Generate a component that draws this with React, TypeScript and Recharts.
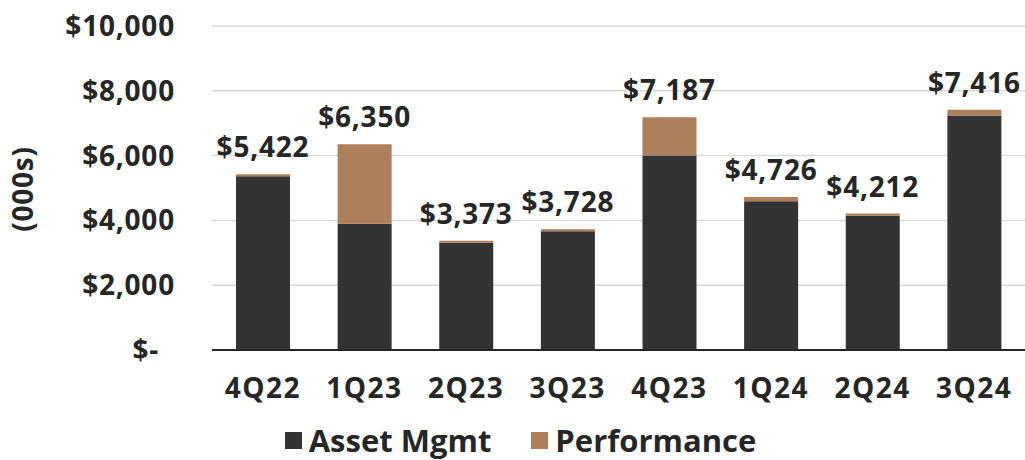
import { Bar, BarChart, CartesianGrid, Label, Legend, XAxis, YAxis } from "recharts";

const quarters = ["4Q22", "1Q23", "2Q23", "3Q23", "4Q23", "1Q24", "2Q24", "3Q24"];
const assetMgmt = [5360, 3900, 3310, 3665, 6000, 4590, 4140, 7235];
const performance = [62, 2450, 63, 63, 1187, 136, 72, 181];
const yTicks = [0, 2000, 4000, 6000, 8000, 10000];

const FONT = "'Open Sans', sans-serif";
const INK = "#262626";
const DARK = "#333333";
const TAN = "#AD7F5A";

const data = quarters.map((q, i) => ({
  q,
  asset: assetMgmt[i],
  perf: performance[i],
  total: assetMgmt[i] + performance[i],
}));

const money = (v: number) => (v === 0 ? "$-" : `$${v.toLocaleString("en-US")}`);

const textStyle = {
  fill: INK,
  fontFamily: FONT,
  fontWeight: 700,
  fontSize: 28,
  letterSpacing: 0.8,
};

function YTick({ x, y, payload }: any) {
  const v = payload.value as number;
  return (
    <text x={x} y={y} dx={v === 0 ? -16 : 0} dy="0.36em" textAnchor="end" style={textStyle}>
      {money(v)}
    </text>
  );
}

function XTick({ x, y, payload }: any) {
  return (
    <text x={x} y={y + 48} textAnchor="middle" style={{ ...textStyle, letterSpacing: 1.5 }}>
      {payload.value}
    </text>
  );
}

function TotalLabel({ x, y, width, index }: any) {
  return (
    <text x={x + width / 2} y={y - 17} textAnchor="middle" style={textStyle}>
      {money(data[index].total)}
    </text>
  );
}

function LegendBox() {
  const items = [
    { name: "Asset Mgmt", color: DARK },
    { name: "Performance", color: TAN },
  ];
  return (
    <div
      style={{
        display: "flex",
        justifyContent: "center",
        gap: 40,
        paddingTop: 14,
        paddingLeft: 16,
        fontFamily: FONT,
        fontWeight: 700,
        fontSize: 31,
        lineHeight: "32px",
        color: INK,
      }}
    >
      {items.map((it) => (
        <div key={it.name} style={{ display: "flex", alignItems: "center", gap: 7 }}>
          <span style={{ width: 17, height: 17, background: it.color, display: "inline-block" }} />
          <span>{it.name}</span>
        </div>
      ))}
    </div>
  );
}

export default function App() {
  return (
    <div style={{ position: "absolute", left: 0, top: 0, width: 1025, height: 460, background: "#fff" }}>
      <BarChart
        width={1025}
        height={460}
        data={data}
        margin={{ top: 26, right: 0, bottom: 0, left: 0 }}
        barSize={54}
      >
        <CartesianGrid vertical={false} stroke="#D9D9D9" strokeWidth={1.5} />
        <XAxis
          dataKey="q"
          height={60}
          tickLine={false}
          tickSize={0}
          tickMargin={0}
          axisLine={{ stroke: INK, strokeWidth: 2 }}
          tick={<XTick />}
        />
        <YAxis
          width={212}
          domain={[0, 10000]}
          ticks={yTicks}
          axisLine={false}
          tickLine={false}
          tickSize={0}
          tickMargin={37}
          tick={<YTick />}
        >
          <Label
            content={() => (
              <text
                transform="translate(23,189) rotate(-90)"
                textAnchor="middle"
                dy="0.36em"
                style={textStyle}
              >
                (000s)
              </text>
            )}
          />
        </YAxis>
        <Legend verticalAlign="bottom" height={50} content={<LegendBox />} />
        <Bar dataKey="asset" stackId="a" fill={DARK} isAnimationActive={false} />
        <Bar
          dataKey="perf"
          stackId="a"
          fill={TAN}
          isAnimationActive={false}
          label={<TotalLabel />}
        />
      </BarChart>
    </div>
  );
}
